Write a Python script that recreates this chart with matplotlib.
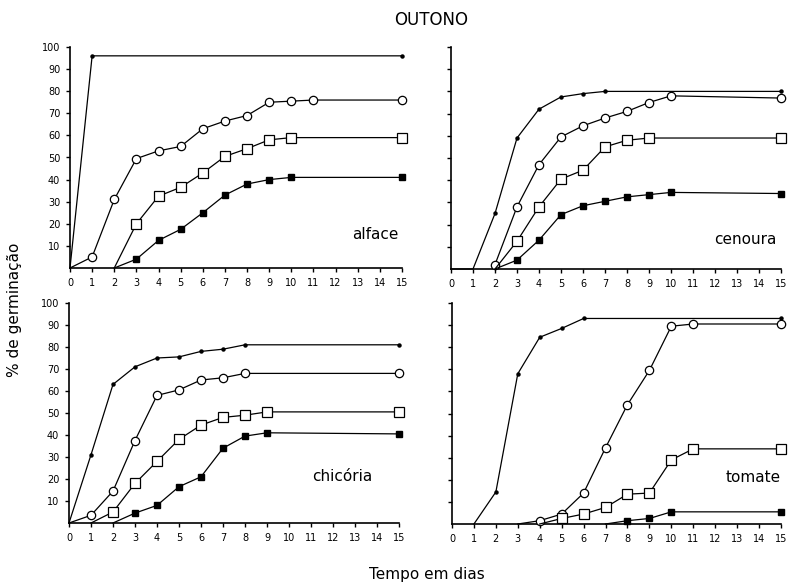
import matplotlib
matplotlib.use("Agg")
import matplotlib.pyplot as plt

days = list(range(0, 16))

# alface
alface_dot_x = [0, 1, 15]
alface_dot_y = [0, 96, 96]
alface_circ_x = [0, 1, 2, 3, 4, 5, 6, 7, 8, 9, 10, 11, 15]
alface_circ_y = [0, 5, 31, 49.5, 53, 55, 63, 66.5, 69, 75, 75.5, 76, 76]
alface_sq_x = [2, 3, 4, 5, 6, 7, 8, 9, 10, 15]
alface_sq_y = [0, 20, 32.5, 36.5, 43, 50.5, 54, 58, 59, 59]
alface_fsq_x = [2, 3, 4, 5, 6, 7, 8, 9, 10, 15]
alface_fsq_y = [0, 4, 12.5, 17.5, 25, 33, 38, 40, 41, 41]

# cenoura
cenoura_dot_x = [0, 1, 2, 3, 4, 5, 6, 7, 15]
cenoura_dot_y = [0, 0, 25, 59, 72, 77.5, 79, 80, 80]
cenoura_circ_x = [2, 3, 4, 5, 6, 7, 8, 9, 10, 15]
cenoura_circ_y = [2, 28, 47, 59.5, 64.5, 68, 71, 75, 78, 77]
cenoura_sq_x = [2, 3, 4, 5, 6, 7, 8, 9, 15]
cenoura_sq_y = [0, 12.5, 28, 40.5, 44.5, 55, 58, 59, 59]
cenoura_fsq_x = [2, 3, 4, 5, 6, 7, 8, 9, 10, 15]
cenoura_fsq_y = [0, 4, 13, 24.5, 28.5, 30.5, 32.5, 33.5, 34.5, 34]

# chicória
chicoria_dot_x = [0, 1, 2, 3, 4, 5, 6, 7, 8, 15]
chicoria_dot_y = [0, 31, 63, 71, 75, 75.5, 78, 79, 81, 81]
chicoria_circ_x = [0, 1, 2, 3, 4, 5, 6, 7, 8, 15]
chicoria_circ_y = [0, 3.5, 14.5, 37.5, 58, 60.5, 65, 66, 68, 68]
chicoria_sq_x = [1, 2, 3, 4, 5, 6, 7, 8, 9, 15]
chicoria_sq_y = [0, 5, 18, 28, 38, 44.5, 48, 49, 50.5, 50.5]
chicoria_fsq_x = [2, 3, 4, 5, 6, 7, 8, 9, 15]
chicoria_fsq_y = [0, 4.5, 8, 16.5, 21, 34, 39.5, 41, 40.5]

# tomate
tomate_dot_x = [1, 2, 3, 4, 5, 6, 15]
tomate_dot_y = [0, 14.5, 68, 84.5, 88.5, 93, 93]
tomate_circ_x = [3, 4, 5, 6, 7, 8, 9, 10, 11, 15]
tomate_circ_y = [0, 1.5, 4.5, 14, 34.5, 54, 69.5, 89.5, 90.5, 90.5]
tomate_sq_x = [4, 5, 6, 7, 8, 9, 10, 11, 15]
tomate_sq_y = [0, 2.5, 4.5, 7.5, 13.5, 14, 29, 34, 34]
tomate_fsq_x = [7, 8, 9, 10, 15]
tomate_fsq_y = [0, 1.5, 2.5, 5.5, 5.5]

panels = [
    ("alface", (70, 402, 47, 268), True,
     (alface_dot_x, alface_dot_y), (alface_circ_x, alface_circ_y),
     (alface_sq_x, alface_sq_y), (alface_fsq_x, alface_fsq_y), (14.85, 15)),
    ("cenoura", (451, 781, 47, 269), False,
     (cenoura_dot_x, cenoura_dot_y), (cenoura_circ_x, cenoura_circ_y),
     (cenoura_sq_x, cenoura_sq_y), (cenoura_fsq_x, cenoura_fsq_y), (14.8, 13.5)),
    ("chicória", (69, 399, 303, 523), True,
     (chicoria_dot_x, chicoria_dot_y), (chicoria_circ_x, chicoria_circ_y),
     (chicoria_sq_x, chicoria_sq_y), (chicoria_fsq_x, chicoria_fsq_y), (13.8, 21)),
    ("tomate", (452, 781, 303, 524), False,
     (tomate_dot_x, tomate_dot_y), (tomate_circ_x, tomate_circ_y),
     (tomate_sq_x, tomate_sq_y), (tomate_fsq_x, tomate_fsq_y), (15.0, 21)),
]

W, H = 788, 585
fig = plt.figure(figsize=(W / 100, H / 100), dpi=100)


def nonzero(ys):
    return [i for i, v in enumerate(ys) if v > 0]


for name, (x0, x1, yt, yb), ylabels, dot, circ, sq, fsq, lab in panels:
    ax = fig.add_axes([x0 / W, 1 - yb / H, (x1 - x0) / W, (yb - yt) / H])
    ax.set_xlim(0, 15)
    ax.set_ylim(0, 100)
    for s in ("top", "right"):
        ax.spines[s].set_visible(False)
    for s in ("left", "bottom"):
        ax.spines[s].set_linewidth(1.2)
    ax.set_xticks(days)
    ax.set_xticklabels([str(d) for d in days])
    ax.set_yticks(list(range(10, 101, 10)))
    if ylabels:
        ax.set_yticklabels([str(v) for v in range(10, 101, 10)])
    else:
        ax.set_yticklabels([])
    ax.tick_params(direction="out", length=3, width=1, labelsize=7, pad=4)
    kw = dict(color="black", linewidth=0.9, clip_on=False, zorder=3)
    ax.plot(dot[0], dot[1], marker="o", markersize=2.2,
            markevery=nonzero(dot[1]), **kw)
    ax.plot(circ[0], circ[1], marker="o", markersize=6, markerfacecolor="white",
            markeredgecolor="black", markeredgewidth=0.9,
            markevery=nonzero(circ[1]), **kw)
    ax.plot(sq[0], sq[1], marker="s", markersize=7, markerfacecolor="white",
            markeredgecolor="black", markeredgewidth=0.9,
            markevery=nonzero(sq[1]), **kw)
    ax.plot(fsq[0], fsq[1], marker="s", markersize=4.5, markerfacecolor="black",
            markevery=nonzero(fsq[1]), **kw)
    ax.text(lab[0], lab[1], name, fontsize=11, ha="right", va="center")

fig.text(431 / W, 1 - 20 / H, "OUTONO", fontsize=12, ha="center", va="center")
fig.text(427 / W, 1 - 575 / H, "Tempo em dias", fontsize=11, ha="center",
         va="center")
fig.text(15 / W, 1 - 310 / H, "% de germinação", fontsize=11, ha="center",
         va="center", rotation=90)

fig.savefig("out.png", dpi=100)
